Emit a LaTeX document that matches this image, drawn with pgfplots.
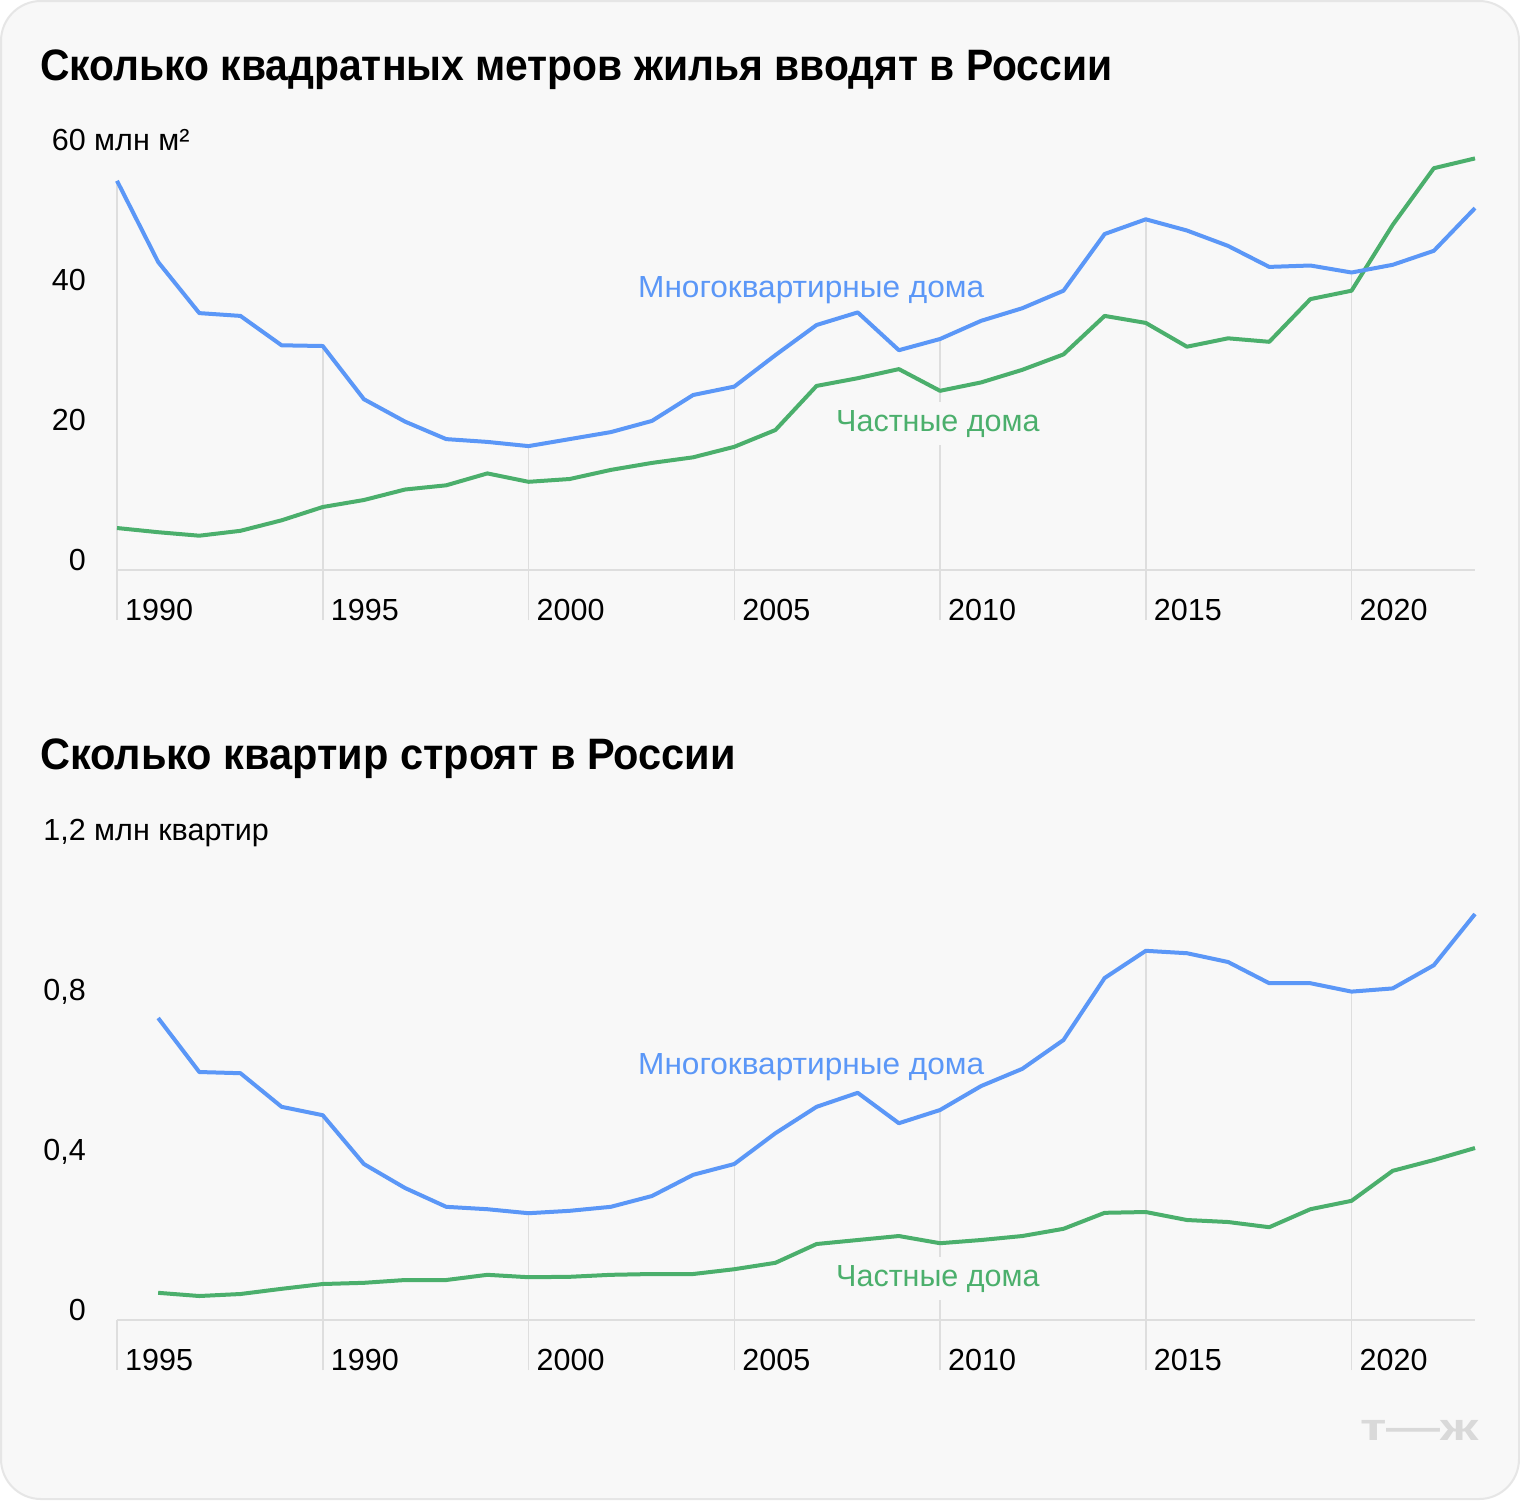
\documentclass[border=0pt]{standalone}
\usepackage{pgfplots}
\pgfplotsset{compat=1.18}
\usepackage{fontspec}
\setmainfont{Liberation Sans}
\definecolor{bg}{HTML}{F8F8F8}
\definecolor{frame}{HTML}{E6E6E6}
\definecolor{gridc}{HTML}{DEDEDE}
\definecolor{blueL}{HTML}{5B97F7}
\definecolor{greenL}{HTML}{4BAF6C}
\definecolor{logo}{HTML}{D9D9D9}
\pgfplotsset{
  tjstyle/.style={scale only axis, clip=false,
    axis line style={draw=none}, major tick style={draw=none},
    xmin=1990, xmax=2023, xtick={1990,1995,2000,2005,2010,2015,2020},
    width=1358pt,
    xticklabel style={anchor=base west, inner sep=0pt, xshift=8pt, yshift=-50pt, font=\fontsize{30.5}{36}\selectfont},
    yticklabel style={anchor=base east, inner sep=0pt, xshift=-31pt, font=\fontsize{30.5}{36}\selectfont},
  },
  grd/.style={gridc, line width=1.5pt},
  bl/.style={blueL, line width=4pt, line join=round},
  gr/.style={greenL, line width=4pt, line join=round},
}
\begin{document}
\begin{tikzpicture}[x=1pt,y=1pt]
\path[use as bounding box] (0,0) rectangle (1520,-1500);
\fill[white] (0,0) rectangle (1520,-1500);
\draw[frame, fill=bg, line width=2pt, rounded corners=40pt] (1,-1) rectangle (1519,-1499);
\node[anchor=base west, inner sep=0pt, font=\bfseries\fontsize{44}{50}\selectfont] at (40,-80) {\scalebox{0.928}[1]{Сколько квадратных метров жилья вводят в России}};
\node[anchor=base west, inner sep=0pt, font=\bfseries\fontsize{44}{50}\selectfont] at (40,-769) {\scalebox{0.944}[1]{Сколько квартир строят в России}};

\begin{axis}[tjstyle, at={(117pt,-570pt)}, anchor=south west, height=420pt,
  ymin=0, ymax=60, ytick={0,20,40,60}, yticklabels={0,20,40,60\rlap{ млн м²}},
  xticklabels={1990,1995,2000,2005,2010,2015,2020}]
\addplot[grd] coordinates {(1990,-7.143) (1990,55.6)};
\addplot[grd] coordinates {(1995,-7.143) (1995,32.0)};
\addplot[grd] coordinates {(2000,-7.143) (2000,17.7)};
\addplot[grd] coordinates {(2005,-7.143) (2005,26.2)};
\addplot[grd] coordinates {(2010,-7.143) (2010,33.0)};
\addplot[grd] coordinates {(2015,-7.143) (2015,50.1)};
\addplot[grd] coordinates {(2020,-7.143) (2020,42.5)};
\addplot[gridc, line width=2.5pt] coordinates {(1990,0) (2023,0)};
\addplot[gr] coordinates {
(1990,6.0) (1991,5.4) (1992,4.9) (1993,5.6) (1994,7.1) (1995,9.0) (1996,10.0) (1997,11.5) (1998,12.1) (1999,13.8)
(2000,12.6) (2001,13.0) (2002,14.3) (2003,15.3) (2004,16.1) (2005,17.6) (2006,20.0) (2007,26.3) (2008,27.4) (2009,28.7)
(2010,25.6) (2011,26.8) (2012,28.6) (2013,30.8) (2014,36.3) (2015,35.3) (2016,31.9) (2017,33.1) (2018,32.6) (2019,38.7)
(2020,39.9) (2021,49.3) (2022,57.4) (2023,58.8)};
\addplot[bl] coordinates {
(1990,55.6) (1991,44.0) (1992,36.7) (1993,36.3) (1994,32.1) (1995,32.0) (1996,24.4) (1997,21.2) (1998,18.7) (1999,18.3)
(2000,17.7) (2001,18.7) (2002,19.7) (2003,21.3) (2004,25.0) (2005,26.2) (2006,30.7) (2007,35.0) (2008,36.8) (2009,31.4)
(2010,33.0) (2011,35.6) (2012,37.4) (2013,39.9) (2014,48.0) (2015,50.1) (2016,48.5) (2017,46.3) (2018,43.3) (2019,43.5)
(2020,42.5) (2021,43.6) (2022,45.6) (2023,51.7)};
\end{axis}

\begin{axis}[tjstyle, at={(117pt,-1320pt)}, anchor=south west, height=480pt,
  ymin=0, ymax=1.2, ytick={0,0.4,0.8,1.2}, yticklabels={0,{0,4},{0,8},{1,2\rlap{ млн квартир}}},
  xticklabels={1995,1990,2000,2005,2010,2015,2020}]
\addplot[grd] coordinates {(1990,-0.125) (1990,0)};
\addplot[grd] coordinates {(1995,-0.125) (1995,0.512)};
\addplot[grd] coordinates {(2000,-0.125) (2000,0.267)};
\addplot[grd] coordinates {(2005,-0.125) (2005,0.39)};
\addplot[grd] coordinates {(2010,-0.125) (2010,0.525)};
\addplot[grd] coordinates {(2015,-0.125) (2015,0.923)};
\addplot[grd] coordinates {(2020,-0.125) (2020,0.821)};
\addplot[gridc, line width=2.5pt] coordinates {(1990,0) (2023,0)};
\addplot[gr] coordinates {
(1991,0.068) (1992,0.060) (1993,0.065) (1994,0.078) (1995,0.090) (1996,0.093) (1997,0.100) (1998,0.100) (1999,0.113)
(2000,0.107) (2001,0.108) (2002,0.113) (2003,0.115) (2004,0.115) (2005,0.127) (2006,0.143) (2007,0.190) (2008,0.200) (2009,0.210)
(2010,0.192) (2011,0.200) (2012,0.210) (2013,0.228) (2014,0.268) (2015,0.270) (2016,0.250) (2017,0.245) (2018,0.232) (2019,0.277)
(2020,0.298) (2021,0.373) (2022,0.400) (2023,0.430)};
\addplot[bl] coordinates {
(1991,0.755) (1992,0.620) (1993,0.617) (1994,0.533) (1995,0.512) (1996,0.390) (1997,0.330) (1998,0.283) (1999,0.277)
(2000,0.267) (2001,0.273) (2002,0.283) (2003,0.310) (2004,0.363) (2005,0.390) (2006,0.467) (2007,0.533) (2008,0.568) (2009,0.492)
(2010,0.525) (2011,0.585) (2012,0.628) (2013,0.700) (2014,0.855) (2015,0.923) (2016,0.917) (2017,0.895) (2018,0.842) (2019,0.842)
(2020,0.821) (2021,0.829) (2022,0.887) (2023,1.015)};
\end{axis}

\tikzset{lbl/.style={anchor=base west, inner xsep=4pt, inner ysep=8pt, font=\fontsize{30.5}{36}\selectfont}}
\node[lbl, text=blueL] at (634,-297) {\scalebox{1.036}[1]{Многоквартирные дома}};
\node[lbl, text=greenL, fill=bg] at (832,-431) {Частные дома};
\node[lbl, text=blueL] at (634,-1074) {\scalebox{1.036}[1]{Многоквартирные дома}};
\node[lbl, text=greenL, fill=bg] at (832,-1286) {Частные дома};
\node[anchor=base west, inner sep=0pt, text=logo, font=\bfseries\fontsize{38}{40}\selectfont] at (1360,-1440) {\scalebox{1.42}[1]{т—ж}};
\end{tikzpicture}
\end{document}
